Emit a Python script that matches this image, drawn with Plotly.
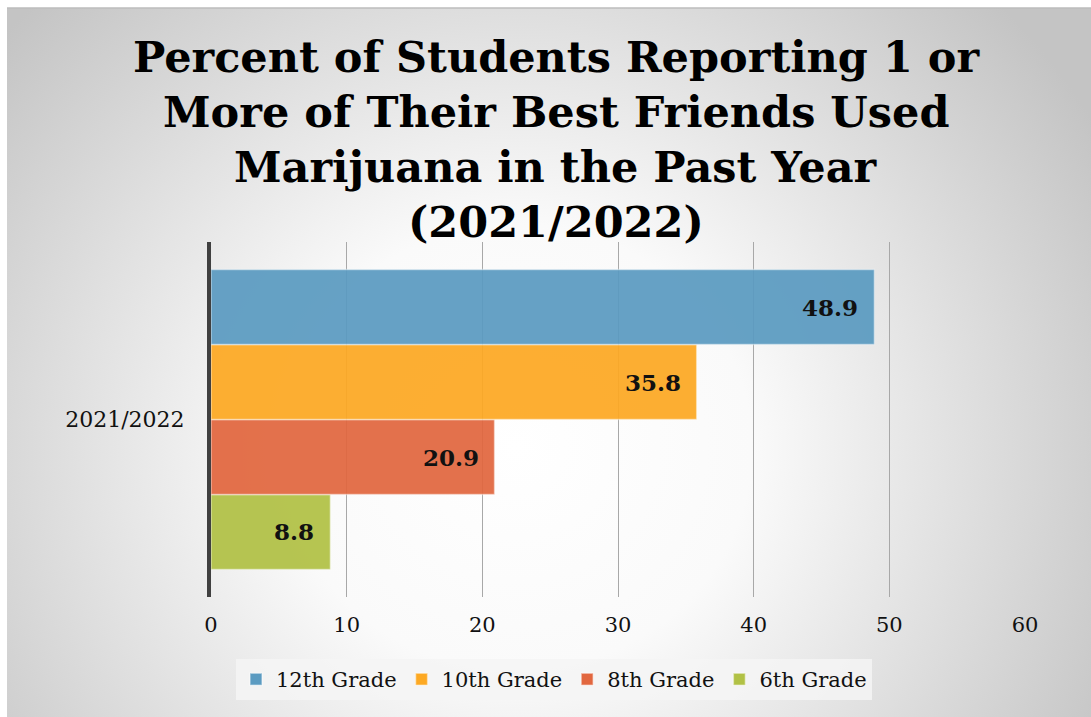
import base64
import plotly.graph_objects as go

# ---- data ----
categories = ["2021/2022"]
grades = ["12th Grade", "10th Grade", "8th Grade", "6th Grade"]
values = [48.9, 35.8, 20.9, 8.8]
colors = ["#5B9BC1", "#FDA923", "#E2673F", "#B1C145"]
x_ticks = [0, 10, 20, 30, 40, 50, 60]
title_lines = [
    "Percent of Students Reporting 1 or",
    "More of Their Best Friends Used",
    "Marijuana in the Past Year",
    "(2021/2022)",
]

W, H = 1091, 717
L, R, T, B = 211, 66, 242, 120
PW, PH = W - L - R, H - T - B
FONT = "DejaVu Serif"

fig = go.Figure()

# plotly stacks grouped horizontal bars bottom-up, so add 6th grade first
for g, v, c in reversed(list(zip(grades, values, colors))):
    fig.add_trace(go.Bar(
        y=categories, x=[v], name=g, orientation="h",
        marker=dict(color=c, opacity=0.93,
                    line=dict(color="rgba(255,255,255,0.45)", width=1.5)),
        hoverinfo="x+name",
    ))

# value labels inside the bar ends
n = len(grades)
for i, (g, v) in enumerate(zip(grades, values)):
    # offset of each bar inside the category band (top bar = 12th grade)
    band = 1 - 0.155
    yoff = band / 2 - band / n * (i + 0.5)
    fig.add_annotation(
        x=v, y=yoff, xref="x", yref="y", text=f"<b>{v}</b>",
        showarrow=False, xanchor="right", xshift=-14,
        font=dict(family=FONT, size=23, color="#111111"),
    )

# radial-gradient chart background
svg = (
    '<svg xmlns="http://www.w3.org/2000/svg" width="1084" height="709">'
    '<defs><radialGradient id="g" cx="0.47" cy="0.62" r="0.62" '
    'gradientTransform="translate(0.47 0.62) scale(1 1.45) translate(-0.47 -0.62)">'
    '<stop offset="0" stop-color="#ffffff"/>'
    '<stop offset="0.35" stop-color="#fafafa"/>'
    '<stop offset="1" stop-color="#c4c4c4"/>'
    '</radialGradient></defs>'
    '<rect width="1084" height="709" fill="url(#g)"/></svg>'
)
uri = "data:image/svg+xml;base64," + base64.b64encode(svg.encode()).decode()
fig.add_layout_image(
    source=uri, xref="paper", yref="paper",
    x=(7 - L) / PW, y=(H - B - 8) / PH,
    sizex=(W - 7) / PW, sizey=(H - 8) / PH,
    xanchor="left", yanchor="top", sizing="stretch", layer="below",
)
fig.add_shape(type="line", xref="paper", yref="paper",
              x0=(7 - L) / PW, x1=(W - L) / PW,
              y0=(H - B - 8) / PH, y1=(H - B - 8) / PH,
              line=dict(color="#bdbdbd", width=1.5))

# title lines
for k, line in enumerate(title_lines):
    fig.add_annotation(
        xref="paper", yref="paper",
        x=(556 - L) / PW, y=(H - B - (57 + 55 * k)) / PH,
        text=f"<b>{line}</b>", showarrow=False,
        xanchor="center", yanchor="middle",
        font=dict(family=FONT, size=43, color="#000000"),
    )

fig.update_layout(
    width=W, height=H,
    margin=dict(l=L, r=R, t=T, b=B, pad=0),
    paper_bgcolor="white", plot_bgcolor="rgba(0,0,0,0)",
    barmode="group", bargap=0.155, bargroupgap=0,
    showlegend=True,
    legend=dict(
        orientation="h", traceorder="reversed",
        x=(554 - L) / PW, xanchor="center",
        y=(PH - (659 - T)) / PH, yanchor="top",
        bgcolor="rgba(245,245,245,0.85)",
        font=dict(family=FONT, size=21, color="#111111"),
        itemwidth=30, entrywidth=0,
    ),
    font=dict(family=FONT, color="#111111"),
)
fig.update_xaxes(
    range=[0, 60], tickvals=x_ticks, showgrid=True,
    gridcolor="#a8a8a8", gridwidth=1, zeroline=False,
    tickfont=dict(family=FONT, size=21, color="#111111"),
    ticks="", ticklabelstandoff=13, fixedrange=True,
)
fig.update_yaxes(
    showline=True, linecolor="#404040", linewidth=4,
    tickfont=dict(family=FONT, size=22, color="#111111"),
    ticks="", ticklabelstandoff=18, showgrid=False, fixedrange=True,
)

fig.write_html("out.html")
